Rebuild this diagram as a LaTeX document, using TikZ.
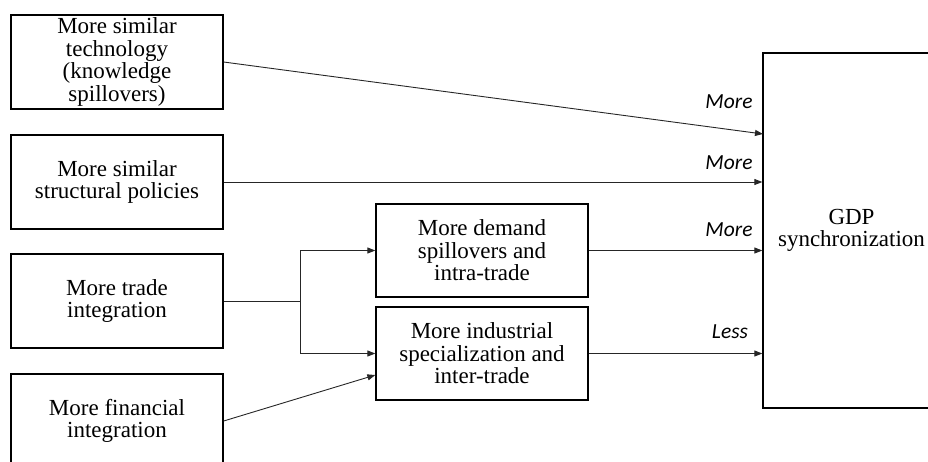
\documentclass[tikz,border=0pt]{standalone}
\usepackage{fontspec}
\setmainfont{Liberation Serif}
\newfontfamily\lblfont{Carlito}
\usetikzlibrary{arrows.meta,calc}
\begin{document}
\begin{tikzpicture}[x=1pt,y=-1pt,
  box/.style={draw=black,line width=1.3pt,align=center,inner sep=2pt,
    font=\fontsize{23}{22.5}\selectfont},
  conn/.style={draw=black!85,line width=0.9pt,-{Triangle[length=8pt,width=6pt]}},
  lbl/.style={font=\lblfont\itshape\fontsize{21.5}{22}\selectfont,inner sep=0pt}]
\useasboundingbox (0,0) rectangle (928,461);
\node[box,minimum width=212pt,minimum height=94pt] (b1) at (117,62)
  {More similar\\technology\\(knowledge\\spillovers)};
\node[box,minimum width=212pt,minimum height=94pt] (b2) at (117,182)
  {More similar\\structural policies};
\node[box,minimum width=212pt,minimum height=94pt] (b3) at (117,301)
  {More trade\\integration};
\node[box,minimum width=212pt,minimum height=94pt] (b4) at (117,421)
  {More financial\\integration};
\node[box,minimum width=212pt,minimum height=93pt] (bA) at (482,250.5)
  {More demand\\spillovers and\\intra-trade};
\node[box,minimum width=212pt,minimum height=93pt] (bB) at (482,353.5)
  {More industrial\\specialization and\\inter-trade};
\node[box,minimum width=177pt,minimum height=355pt] (gdp) at (851.5,230.5)
  {GDP\\synchronization};
\coordinate (g1) at (763,134);
\coordinate (j) at (300,301);
\draw[conn] (b1.east) -- (g1);
\draw[conn] (b2.east) -- (gdp.west |- b2.east);
\draw[conn] (bA.east) -- (gdp.west |- bA.east);
\draw[conn] (bB.east) -- (gdp.west |- bB.east);
\draw[draw=black!85,line width=0.9pt] (b3.east) -- (j);
\draw[conn] (j) |- (bA.west);
\draw[conn] (j) |- (bB.west);
\draw[conn] (b4.east) -- ([yshift=-21.5pt]bB.west);
\node[lbl] (l1) at (729,102) {More};
\node[lbl] (l2) at (729,163) {More};
\node[lbl] (l3) at (729,230) {More};
\node[lbl] (l4) at (730,332) {Less};
\end{tikzpicture}
\end{document}
